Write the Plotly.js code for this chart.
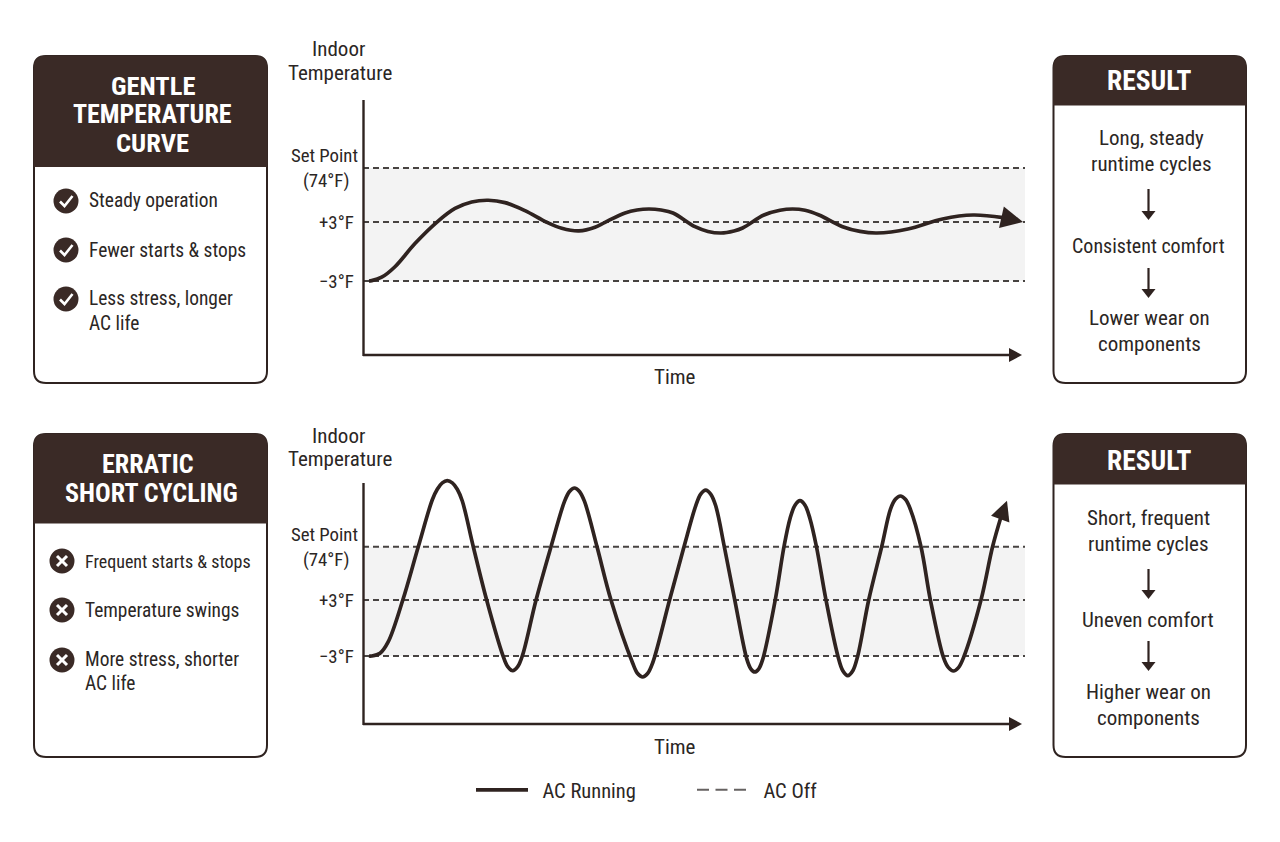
<!DOCTYPE html>
<html><head><meta charset="utf-8">
<script src="https://cdn.plot.ly/plotly-3.0.1.min.js"></script>
<style>html,body{margin:0;padding:0;background:#fff}#c{width:1280px;height:842px}</style>
</head><body><div id="c"></div>
<script>
// ---------- data ----------
const gentleTime = [0.9,1.31,2.82,4.83,7.85,11.13,13.90,16.42,18.93,21.45,24.47,27.75,30.02,32.63,35.05,36.56,39.58,41.39,43.2,45.02,46.83,50.15,52.11,54.08,56.04,57.34,60.57,62.99,64.89,66.77,68.88,72.45,75.08,77.64,82.32,87.55,92.15,96.68,98.04];
const gentleTemp = [-3,-2.97,-2.62,-1.55,0.81,2.97,4.38,5.04,5.21,4.97,4.15,2.97,2.36,2.09,2.46,2.97,3.92,4.22,4.32,4.22,3.92,2.52,2.04,1.88,2.09,2.39,3.71,4.19,4.32,4.19,3.71,2.52,2.04,1.88,2.29,3.31,3.71,3.44,3.25];
const erraticTime = [0.9,1.31,2.57,3.82,6.00,8.35,10.47,11.22,11.98,12.73,13.49,14.24,15.00,16.66,18.69,21.10,21.86,22.61,23.37,24.12,26.13,28.40,30.44,31.19,31.95,32.70,33.46,35.35,37.46,40.73,41.48,42.24,42.99,43.75,46.31,48.49,50.26,51.01,51.77,52.52,53.28,54.58,56.16,57.98,58.58,59.18,59.79,60.39,62.27,63.59,64.50,65.26,66.01,66.77,67.52,68.50,69.94,71.72,72.48,73.23,73.99,74.74,76.39,78.35,79.67,80.42,81.18,81.93,82.69,84.29,85.71,87.69,88.44,89.20,89.95,90.71,93.35,95.10,96.37];
const erraticTemp = [-3,-3,-2.71,-1.47,2.97,8.71,13.75,14.88,15.56,15.79,15.56,14.88,13.61,8.71,2.97,-2.88,-4.15,-4.58,-4.15,-2.88,2.97,8.71,13.57,14.64,15.01,14.64,13.57,8.71,3,-3.75,-4.88,-5.25,-4.88,-3.75,3,8.71,13.10,14.36,14.79,14.36,13.10,8.71,3,-3.34,-4.37,-4.71,-4.37,-3.34,3,8.71,11.72,13.16,13.65,13.16,11.72,8.71,3,-2.97,-4.58,-5.11,-4.58,-2.97,3,8.71,12.72,13.80,14.15,13.80,12.72,8.71,3,-3.18,-4.25,-4.61,-4.25,-3.18,3,8.71,11.90];
const gentleArrowTip = [99.7,3.0];
const erraticArrowTip = [97.28,13.65];
const gentleLevels = [8.5,3,-3];
const erraticLevels = [8.71,3,-3];
const levelLabels = ['Set Point<br>(74°F)&#160;&#160;','+3°F&#160;','−3°F&#160;'];
const gentleHeader = ['GENTLE','TEMPERATURE','CURVE'];
const erraticHeader = ['ERRATIC','SHORT CYCLING'];
const gentleNotes = ['Steady operation','Fewer starts & stops','Less stress, longer','AC life'];
const erraticNotes = ['Frequent starts & stops','Temperature swings','More stress, shorter','AC life'];
const gentleResult = ['Long, steady','runtime cycles','Consistent comfort','Lower wear on','components'];
const erraticResult = ['Short, frequent','runtime cycles','Uneven comfort','Higher wear on','components'];
const legendNames = ['\u00a0\u00a0AC Running','\u00a0\u00a0AC Off'];

// ---------- styling ----------
const DARK='#2f2320', HEAD='#3a2a26', INK='#2b2624', BAND='#f3f3f3', DASH='#474341';
const FONT='"Roboto Condensed","Roboto",sans-serif';
const W=1280,H=842;
const fx=x=>x/W, fy=y=>1-y/H;
const shapes=[], annotations=[];
const P=(x,y)=>fx(x)+','+fy(y);
function rr(x0,y0,x1,y1,r){
  return 'M'+P(x0+r,y0)+' L'+P(x1-r,y0)+' Q'+P(x1,y0)+' '+P(x1,y0+r)+' L'+P(x1,y1-r)+' Q'+P(x1,y1)+' '+P(x1-r,y1)+' L'+P(x0+r,y1)+' Q'+P(x0,y1)+' '+P(x0,y1-r)+' L'+P(x0,y0+r)+' Q'+P(x0,y0)+' '+P(x0+r,y0)+' Z';
}
function rrTop(x0,y0,x1,y1,r){
  return 'M'+P(x0+r,y0)+' L'+P(x1-r,y0)+' Q'+P(x1,y0)+' '+P(x1,y0+r)+' L'+P(x1,y1)+' L'+P(x0,y1)+' L'+P(x0,y0+r)+' Q'+P(x0,y0)+' '+P(x0+r,y0)+' Z';
}
function shapePath(path,fill,lineColor,lw){
  shapes.push({type:'path',xref:'paper',yref:'paper',path,fillcolor:fill||'rgba(0,0,0,0)',line:{color:lineColor||'rgba(0,0,0,0)',width:lw||0},layer:'below'});
}
function panel(x0,y0,x1,y1,hb){
  shapePath(rr(x0,y0,x1,y1,12),'#ffffff',DARK,2);
  shapePath(rrTop(x0,y0,x1,hb,12),HEAD,HEAD,1);
}
function label(text,x,y,size,opts){
  opts=opts||{};
  annotations.push({xref:'paper',yref:'paper',x:fx(x),y:fy(y),text,showarrow:false,xanchor:opts.anchor||'center',yanchor:'middle',
    font:{family:FONT,size,color:opts.color||INK,weight:opts.bold?700:400}});
}
function disc(cx,cy,r){
  shapes.push({type:'circle',xref:'paper',yref:'paper',x0:fx(cx-r),x1:fx(cx+r),y0:fy(cy+r),y1:fy(cy-r),fillcolor:HEAD,line:{width:0},layer:'above'});
}
function stroke(path,color,w){
  shapes.push({type:'path',xref:'paper',yref:'paper',path,line:{color,width:w},layer:'above'});
}
function checkIcon(cx,cy){ disc(cx,cy,12.5); stroke('M'+P(cx-6,cy+0.5)+' L'+P(cx-1.5,cy+5)+' L'+P(cx+6.5,cy-5),'#fff',2.6); }
function crossIcon(cx,cy){ disc(cx,cy,12.5); stroke('M'+P(cx-5,cy-5)+' L'+P(cx+5,cy+5),'#fff',3); stroke('M'+P(cx-5,cy+5)+' L'+P(cx+5,cy-5),'#fff',3); }
function downArrow(x,y0,y1){
  stroke('M'+P(x,y0)+' L'+P(x,y1-6),DARK,2.2);
  shapes.push({type:'path',xref:'paper',yref:'paper',path:'M'+P(x-7,y1-9)+' L'+P(x+7,y1-9)+' L'+P(x,y1)+' Z',fillcolor:DARK,line:{width:0},layer:'above'});
}
function axisArrow(x0,x1,y){
  stroke('M'+P(x0,y)+' L'+P(x1-8,y),DARK,2.4);
  shapes.push({type:'path',xref:'paper',yref:'paper',path:'M'+P(x1-13,y-7)+' L'+P(x1,y)+' L'+P(x1-13,y+7)+' Z',fillcolor:DARK,line:{width:0},layer:'above'});
}

// panels
panel(34,56,267,383,166.5); panel(34,434,267,757,523);
panel(1053.5,56,1246,383,105); panel(1053.5,434,1246,757,484);

// headers
[[26.5,153],[26,152],[26.5,152]].forEach((p,i)=>label(gentleHeader[i],p[1],[85.5,114,142.5][i],p[0],{bold:true,color:'#fff'}));
label(erraticHeader[0],148,463.5,26,{bold:true,color:'#fff'});
label(erraticHeader[1],151.5,492.5,26,{bold:true,color:'#fff'});
label('RESULT',1149.5,81,27.5,{bold:true,color:'#fff'});
label('RESULT',1149.5,460,27.5,{bold:true,color:'#fff'});

// left panel notes
[200.5,250,299,323].forEach((y,i)=>label(gentleNotes[i],87,y,19.4,{anchor:'left'}));
[561,610,659,683].forEach((y,i)=>label(erraticNotes[i],83,y,i===0?18:19.4,{anchor:'left'}));
[201,250,299].forEach(y=>checkIcon(66,y));
[561,610,660].forEach(y=>crossIcon(62,y));

// right panel notes
[[1151,138],[1151,164],[1148.5,246],[1149.5,318],[1149,344]].forEach((p,i)=>label(gentleResult[i],p[0],p[1],i===2?20:21));
[[1148,518],[1148,544],[1148,620],[1148.5,692],[1148,718]].forEach((p,i)=>label(erraticResult[i],p[0],p[1],21));
downArrow(1148.5,189,220); downArrow(1148.5,268,298);
downArrow(1148.5,569,599); downArrow(1148.5,641,671);

// axis captions
label('Indoor',338,49,21); label('Temperature',340,73,21);
label('Indoor',338,436,21); label('Temperature',340,459,21);
label('Time',675,377,21); label('Time',675,747,21);

// axes
axisArrow(363,1022,355); axisArrow(363,1022,724);
stroke('M'+P(363.5,100)+' L'+P(363.5,356),DARK,2.4);
stroke('M'+P(363.5,483)+' L'+P(363.5,725),DARK,2.4);

// curve arrowheads
function curveArrow(ax,ay,tip,xa,ya,size){
  annotations.push({xref:xa,yref:ya,axref:xa,ayref:ya,x:tip[0],y:tip[1],ax,ay,text:'',showarrow:true,arrowhead:2,arrowsize:size,arrowwidth:3.4,arrowcolor:DARK});
}
curveArrow(gentleTime[gentleTime.length-1],gentleTemp[gentleTemp.length-1],gentleArrowTip,'x','y',1.3);
curveArrow(erraticTime[erraticTime.length-1],erraticTemp[erraticTemp.length-1],erraticArrowTip,'x2','y2',1.15);

// shaded bands
function band(levels,xa,ya){
  shapes.push({type:'rect',xref:xa,yref:ya,x0:0,x1:100,y0:levels[2],y1:levels[0],fillcolor:BAND,line:{width:0},layer:'below'});
}
band(gentleLevels,'x','y'); band(erraticLevels,'x2','y2');

// ---------- traces ----------
const traces=[];
function levelTraces(levels,xa,ya){
  levels.forEach(v=>traces.push({type:'scatter',mode:'lines',x:[0,100],y:[v,v],xaxis:xa,yaxis:ya,showlegend:false,hoverinfo:'skip',
    line:{color:DASH,width:2,dash:'6px,4px'},cliponaxis:false}));
}
levelTraces(gentleLevels,'x','y'); levelTraces(erraticLevels,'x2','y2');
traces.push({type:'scatter',mode:'lines',name:legendNames[0],x:gentleTime,y:gentleTemp,xaxis:'x',yaxis:'y',showlegend:true,
  line:{color:DARK,width:3.7,shape:'spline',smoothing:1,simplify:false},cliponaxis:false});
traces.push({type:'scatter',mode:'lines',x:erraticTime,y:erraticTemp,xaxis:'x2',yaxis:'y2',showlegend:false,name:legendNames[0],
  line:{color:DARK,width:3.7,shape:'spline',smoothing:1,simplify:false},cliponaxis:false});
traces.push({type:'scatter',mode:'lines',name:legendNames[1],x:[null],y:[null],xaxis:'x',yaxis:'y',showlegend:true,
  line:{color:'#666261',width:2,dash:'12px,6.5px'}});

const xBase={showgrid:false,zeroline:false,showticklabels:false,ticks:'',showline:false,range:[0,100],fixedrange:true};
function yBase(levels,range){
  return {showgrid:false,zeroline:false,showline:false,range,tickmode:'array',tickvals:levels,ticktext:levelLabels,
    ticks:'',ticklabelstandoff:5,tickfont:{family:FONT,size:18.8,color:INK},fixedrange:true,anchor:'free',position:fx(363)};
}
const layout={
  width:W,height:H,margin:{l:0,r:0,t:0,b:0},paper_bgcolor:'#fff',plot_bgcolor:'rgba(0,0,0,0)',
  font:{family:FONT,color:INK},showlegend:true,
  legend:{orientation:'h',x:fx(471),y:fy(790),xanchor:'left',yanchor:'middle',itemwidth:52,entrywidth:154,entrywidthmode:'pixels',
    font:{family:FONT,size:20.5,color:INK},bgcolor:'rgba(0,0,0,0)',traceorder:'normal'},
  xaxis:Object.assign({domain:[fx(363),fx(1025)],anchor:'y'},xBase),
  yaxis:Object.assign(yBase(gentleLevels,[-10.53,15.41]),{domain:[fy(355),fy(100)]}),
  xaxis2:Object.assign({domain:[fx(363),fx(1025)],anchor:'y2'},xBase),
  yaxis2:Object.assign(yBase(erraticLevels,[-10.29,16.08]),{domain:[fy(724),fy(478)]}),
  shapes,annotations
};
Plotly.newPlot('c',traces,layout,{displayModeBar:false,staticPlot:true});
</script></body></html>
